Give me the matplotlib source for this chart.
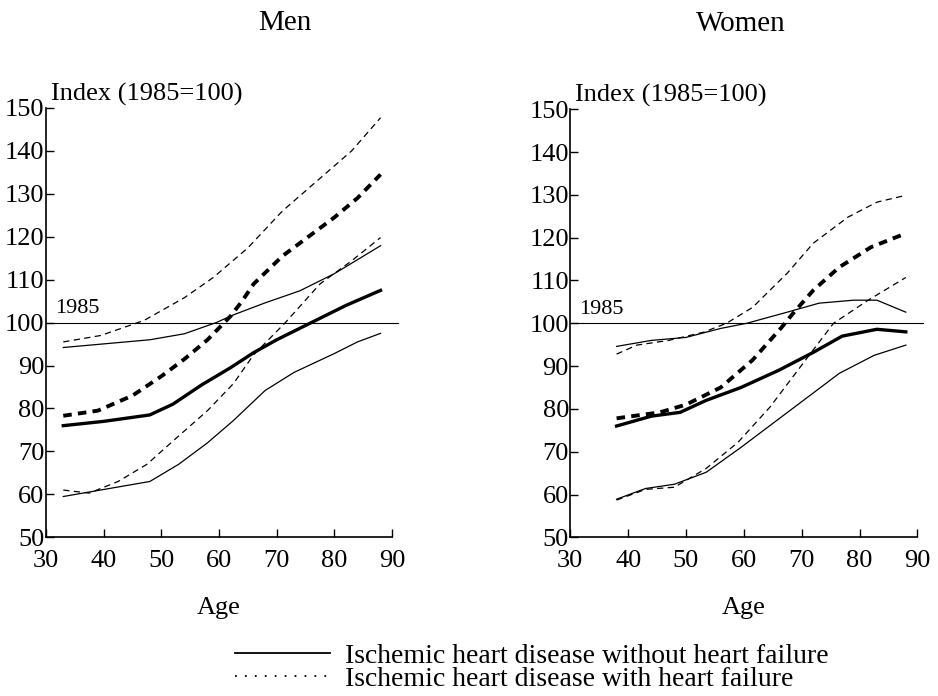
import matplotlib.pyplot as plt
from matplotlib.lines import Line2D

plt.rcParams['font.family'] = ['Liberation Serif', 'DejaVu Serif']

# Men: index by age (1985 = 100)
men_age_wo = [33, 40, 48, 52, 57, 62, 66, 70, 76, 82, 88]
men_wo_mid = [76, 77, 78.5, 81, 85.5, 89.5, 93, 96, 100, 104, 107.5]
men_up_age = [33, 48, 54, 59.5, 62.5, 68, 74, 80, 88]
men_wo_up = [94.2, 96, 97.4, 100, 101.8, 104.6, 107.4, 111.4, 117.9]
men_lo_age = [33, 48, 53, 58, 62.5, 68, 73, 80, 84, 88]
men_wo_lo = [59.5, 63, 67, 72, 77.2, 84.2, 88.4, 92.8, 95.5, 97.5]

men_age_w = [33, 39, 45, 50, 54, 58, 62, 64, 66, 71, 76, 80, 84, 88]
men_w_mid = [78.3, 79.5, 83, 87.5, 91.5, 96, 101.5, 105, 109, 115.5, 120.5, 124.5, 129, 134.5]
men_wup_age = [33, 39.5, 47, 54, 59, 65, 71, 77, 83, 88]
men_w_up = [95.5, 97, 100.5, 105.8, 110.5, 117.4, 126, 133, 140, 147.7]
men_wlo_age = [33, 37.5, 42.5, 47.5, 52.5, 58, 62.5, 66, 71.5, 77.5, 83, 88]
men_w_lo = [61, 60.3, 63, 67, 73, 79.5, 85.8, 92.5, 100, 109, 114.4, 119.8]

# Women
wom_age_wo = [38, 44, 49, 53.5, 59.5, 66, 72, 77, 83, 88]
wom_wo_mid = [76, 78.3, 79.2, 82, 85, 89, 93.2, 97, 98.6, 98]
wom_up_age = [38, 44, 50, 56, 60.5, 67.5, 73, 79, 83, 88]
wom_wo_up = [94.6, 96, 96.7, 98.8, 100, 102.6, 104.7, 105.4, 105.4, 102.6]
wom_lo_age = [38, 43, 48, 53.5, 59.5, 65, 71, 76.5, 82.5, 88]
wom_wo_lo = [58.9, 61.4, 62.4, 65.2, 71, 76.6, 82.7, 88.3, 92.5, 94.9]

wom_age_w = [38, 45.5, 50, 56, 61.5, 66.5, 68.5, 72, 76.5, 82, 88]
wom_w_mid = [77.8, 79.2, 81, 85, 91.4, 99, 102.3, 107.7, 113.1, 117.8, 121]
wom_wup_age = [38, 41.5, 47, 53, 57, 61.5, 67.5, 72, 78, 83, 88]
wom_w_up = [92.8, 94.9, 96, 97.9, 100, 103.7, 111.7, 118.7, 124.8, 128.3, 129.9]
wom_wlo_age = [38, 43, 48, 53.5, 59, 64.5, 71, 75.5, 81.5, 88]
wom_w_lo = [58.7, 61.2, 61.7, 66.1, 72.2, 80.4, 92, 100, 105.4, 110.7]

panels = [
    ('Men', men_age_wo, men_wo_mid, men_up_age, men_wo_up, men_lo_age, men_wo_lo,
     men_age_w, men_w_mid, men_wup_age, men_w_up, men_wlo_age, men_w_lo),
    ('Women', wom_age_wo, wom_wo_mid, wom_up_age, wom_wo_up, wom_lo_age, wom_wo_lo,
     wom_age_w, wom_w_mid, wom_wup_age, wom_w_up, wom_wlo_age, wom_w_lo),
]

fig = plt.figure(figsize=(9.38, 6.96), dpi=100)
boxes = [[0.049, 0.228, 0.369, 0.617], [0.608, 0.228, 0.370, 0.615]]
title_x = [0.69, 0.49]

thin_dash = (0, (5, 3.5))
thick_dash = (0, (2.2, 1.6))

for box, tx, p in zip(boxes, title_x, panels):
    (title, a1, m1, a2, u1, a3, l1, a4, m2, a5, u2, a6, l2) = p
    ax = fig.add_axes(box)
    ax.plot(a1, m1, color='black', lw=2.4)
    ax.plot(a2, u1, color='black', lw=0.9)
    ax.plot(a3, l1, color='black', lw=0.9)
    ax.plot(a4, m2, color='black', lw=2.8, linestyle=thick_dash)
    ax.plot(a5, u2, color='black', lw=0.9, linestyle=thin_dash)
    ax.plot(a6, l2, color='black', lw=0.9, linestyle=thin_dash)

    # 1985 reference level
    ax.plot([30, 91], [100, 100], color='black', lw=0.8, clip_on=False)
    ax.text(31.6, 101.0, '1985', fontsize=16, ha='left', va='bottom')

    ax.set_xlim(30, 90)
    ax.set_ylim(50, 150)
    ax.set_xticks(range(30, 91, 10))
    ax.set_yticks(range(50, 151, 10))
    ax.tick_params(direction='in', length=6, width=1, labelsize=19, pad=1)
    ax.tick_params(axis='x', pad=9)
    ax.spines['top'].set_visible(False)
    ax.spines['right'].set_visible(False)
    for s in ('left', 'bottom'):
        ax.spines[s].set_linewidth(1.2)

    ax.text(30.8, 150.5, 'Index (1985=100)', fontsize=19, ha='left', va='bottom')
    ax.set_xlabel('Age', fontsize=19, labelpad=18)
    ax.set_title(title, fontsize=21, pad=56, x=tx)

# legend under both panels
leg_handles = [
    Line2D([], [], color='black', lw=1.3),
    Line2D([], [], color='black', lw=1.3, linestyle=(0, (1, 4.5))),
]
fig.legend(leg_handles,
           ['Ischemic heart disease without heart failure',
            'Ischemic heart disease with heart failure'],
           loc='lower left', bbox_to_anchor=(0.224, -0.03), frameon=False,
           fontsize=20, handlelength=3.4, handletextpad=0.55, labelspacing=-0.1)

fig.savefig('out.png', dpi=100)
